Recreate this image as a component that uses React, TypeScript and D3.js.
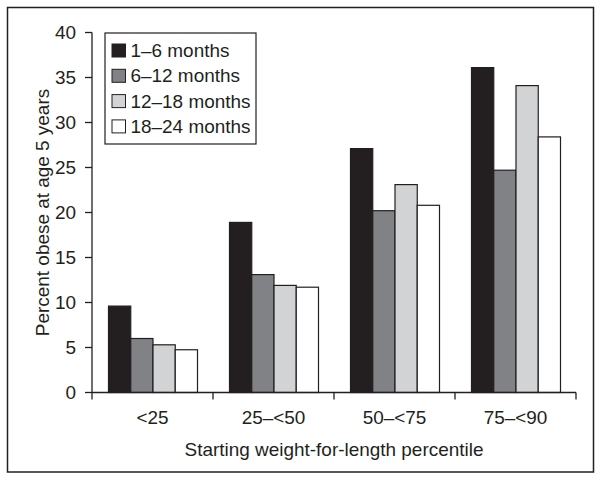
import React from "react";
import * as d3 from "d3";

const categories = ["<25", "25–<50", "50–<75", "75–<90"];
const seriesNames = ["1–6 months", "6–12 months", "12–18 months", "18–24 months"];
const seriesColors = ["#231f20", "#808285", "#d1d3d4", "#ffffff"];
const values1to6 = [9.6, 18.9, 27.1, 36.1];
const values6to12 = [6.0, 13.1, 20.2, 24.7];
const values12to18 = [5.3, 11.9, 23.1, 34.1];
const values18to24 = [4.75, 11.7, 20.8, 28.4];
const yTicks = [0, 5, 10, 15, 20, 25, 30, 35, 40];

const seriesValues = [values1to6, values6to12, values12to18, values18to24];

const W = 602;
const H = 481;
const left = 92;
const right = 576;
const top = 32.5;
const bottom = 392.5;
const ink = "#231f20";
const font = "'Liberation Sans', Arial, sans-serif";
const fs = 18.4;
const sx = 1.03;

function T({
  x,
  y,
  anchor = "start",
  rotate = 0,
  dy,
  children,
}: {
  x: number;
  y: number;
  anchor?: string;
  rotate?: number;
  dy?: string;
  children: React.ReactNode;
}) {
  return (
    <text
      transform={`translate(${x},${y}) rotate(${rotate}) scale(${sx},1)`}
      textAnchor={anchor}
      dy={dy}
      fontSize={fs}
      fill={ink}
      fontFamily={font}
    >
      {children}
    </text>
  );
}

export default function App() {
  const y = d3.scaleLinear().domain([0, 40]).range([bottom, top]);
  const x0 = d3.scaleBand<string>().domain(categories).range([left, right]).padding(0);
  const bw = x0.bandwidth();
  const x1 = d3
    .scaleBand<string>()
    .domain(seriesNames)
    .range([16.5, bw - 15.5])
    .padding(0);

  return (
    <svg
      width={W}
      height={H}
      style={{ position: "fixed", left: 0, top: 0, background: "#fff" }}
      fontFamily={font}
    >
      <rect x={0} y={0} width={W} height={H} fill="#fff" />
      <rect x={7.5} y={7.5} width={586} height={464.5} fill="none" stroke={ink} strokeWidth={1.5} />

      {/* bars */}
      {categories.map((c, ci) => (
        <g key={c} transform={`translate(${x0(c)},0)`}>
          {seriesNames.map((s, si) => {
            const v = seriesValues[si][ci];
            return (
              <rect
                key={s}
                x={x1(s)}
                y={y(v)}
                width={x1.bandwidth()}
                height={y(0) - y(v)}
                fill={seriesColors[si]}
                stroke={ink}
                strokeWidth={1.2}
              />
            );
          })}
        </g>
      ))}

      {/* y axis */}
      <line x1={left} x2={left} y1={top} y2={bottom} stroke={ink} strokeWidth={1.3} />
      {yTicks.map((t) => (
        <g key={t}>
          <line x1={left - 7} x2={left} y1={y(t)} y2={y(t)} stroke={ink} strokeWidth={1.3} />
          <T x={left - 16} y={y(t)} dy="0.36em" anchor="end">
            {t}
          </T>
        </g>
      ))}

      {/* x axis */}
      <line x1={left} x2={right} y1={bottom} y2={bottom} stroke={ink} strokeWidth={1.3} />
      {[...categories.map((c) => x0(c) as number), right].map((tx, i) => (
        <line key={i} x1={tx} x2={tx} y1={bottom} y2={bottom + 7} stroke={ink} strokeWidth={1.3} />
      ))}
      {categories.map((c) => (
        <T key={c} x={(x0(c) as number) + bw / 2} y={424} anchor="middle">
          {c}
        </T>
      ))}

      <T x={(left + right) / 2} y={456} anchor="middle">
        Starting weight-for-length percentile
      </T>
      <T x={49} y={(top + bottom) / 2} rotate={-90} anchor="middle">
        Percent obese at age 5 years
      </T>

      {/* legend */}
      <rect x={105} y={33} width={151} height={111} fill="#fff" stroke={ink} strokeWidth={1.2} />
      {seriesNames.map((s, i) => {
        const cy = 50.5 + i * 25.3;
        return (
          <g key={s}>
            <rect x={112} y={cy - 6.5} width={13.5} height={13} fill={seriesColors[i]} stroke={ink} strokeWidth={1} />
            <T x={130.5} y={cy} dy="0.36em">
              {s}
            </T>
          </g>
        );
      })}
    </svg>
  );
}
